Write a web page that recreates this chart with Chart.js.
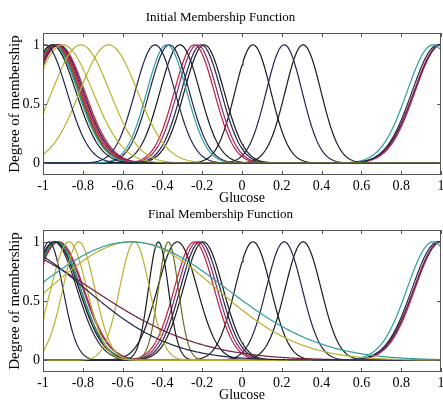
<!DOCTYPE html>
<html>
<head>
<meta charset="utf-8">
<script src="https://cdn.jsdelivr.net/npm/chart.js@4.4.0/dist/chart.umd.min.js"></script>
<style>
  html, body { margin: 0; padding: 0; background: #fff; }
  #wrap { position: relative; width: 443px; height: 404px; overflow: hidden; }
  .panel { position: absolute; left: 0; width: 443px; height: 207px; }
  #top { top: 0; }
  #bottom { top: 197px; }
</style>
</head>
<body>
<div id="wrap">
  <div class="panel" id="top"><canvas id="initial-chart"></canvas></div>
  <div class="panel" id="bottom"><canvas id="final-chart"></canvas></div>
</div>
<script>
const xTicks = [-1, -0.8, -0.6, -0.4, -0.2, 0, 0.2, 0.4, 0.6, 0.8, 1];
const yTicks = [0, 0.5, 1];

// gaussian membership functions: centre and width of each curve
const initialCenters = [
    -0.99, -0.90, -0.81, -0.67,
    -0.955, -0.95, -0.945, -0.94, -0.935, -0.93, -0.925, -0.92, -0.93,
    -0.437, -0.378, -0.365, -0.312, -0.24, -0.225, -0.205, -0.19,
    0.055, 0.212, 0.307,
    0.96, 0.985, 0.995, 1.0, 1.0
];
const initialSigmas = [
    0.11, 0.15, 0.145, 0.145,
    0.12, 0.125, 0.125, 0.125, 0.127, 0.128, 0.128, 0.13, 0.12,
    0.1, 0.1, 0.1, 0.1, 0.1, 0.1, 0.1, 0.1,
    0.09, 0.09, 0.09,
    0.13, 0.13, 0.13, 0.135, 0.13
];

const finalCenters = [
    -0.56, -0.55, -1.22, -1.31,
    -0.87, -0.82, -0.54, -0.97,
    -0.94, -0.935, -0.93, -0.945, -0.925, -0.92,
    -0.42, -0.37,
    -0.325, -0.24, -0.225, -0.21, -0.195,
    0.055, 0.212, 0.307,
    0.96, 0.985, 0.995, 1.0, 1.0
];
const finalSigmas = [
    0.48, 0.42, 0.43, 0.55,
    0.09, 0.08, 0.075, 0.07,
    0.12, 0.12, 0.12, 0.115, 0.125, 0.125,
    0.05, 0.05,
    0.1, 0.1, 0.1, 0.1, 0.1,
    0.09, 0.09, 0.09,
    0.13, 0.13, 0.13, 0.135, 0.13
];

const navy = "#24244e", black = "#1b1b1b", teal = "#2f9e9e", olive = "#b8b230",
      red = "#c0203a", maroon = "#6e1e3e", magenta = "#8a2a70", green = "#2f7a3a",
      darkOlive = "#6b6b24";

const initialColors = [
    navy, olive, olive, olive,
    black, teal, green, red, red, magenta, navy, red, olive,
    navy, teal, navy, black, red, magenta, navy, black,
    black, navy, black,
    teal, navy, magenta, black, red
];
const finalColors = [
    teal, olive, navy, maroon,
    olive, olive, olive, navy,
    black, teal, green, navy, magenta, red,
    black, darkOlive,
    black, red, magenta, navy, black,
    black, navy, black,
    teal, navy, magenta, black, red
];

const sampleX = [];
for (let i = 0; i <= 400; i++) sampleX.push(-1 + i * 0.005);

const gaussmf = (x, c, s) => Math.exp(-((x - c) * (x - c)) / (2 * s * s));

const serif = "'Liberation Serif', 'Times New Roman', serif";

const framePlugin = {
    id: "frame",
    afterDraw(chart) {
        const { ctx, chartArea: a, scales } = chart;
        ctx.save();
        ctx.strokeStyle = "#555";
        ctx.lineWidth = 1;
        ctx.strokeRect(a.left + 0.5, a.top + 0.5, a.width - 1, a.height - 1);
        ctx.beginPath();
        xTicks.forEach(v => {
            const px = Math.round(scales.x.getPixelForValue(v)) + 0.5;
            ctx.moveTo(px, a.top); ctx.lineTo(px, a.top + 4);
            ctx.moveTo(px, a.bottom); ctx.lineTo(px, a.bottom - 4);
        });
        yTicks.forEach(v => {
            const py = Math.round(scales.y.getPixelForValue(v)) + 0.5;
            ctx.moveTo(a.left, py); ctx.lineTo(a.left + 4, py);
            ctx.moveTo(a.right, py); ctx.lineTo(a.right - 4, py);
        });
        ctx.stroke();
        ctx.restore();
    }
};

function makeChart(id, title, centers, sigmas, colors, zeroColor) {
    const datasets = centers.map((c, i) => ({
        data: sampleX.map(x => ({ x: x, y: gaussmf(x, c, sigmas[i]) })),
        borderColor: colors[i],
        borderWidth: 1.2,
        pointRadius: 0,
        showLine: true,
        fill: false
    }));

    new Chart(document.getElementById(id), {
        type: "scatter",
        data: { datasets: datasets },
        options: {
            responsive: true,
            maintainAspectRatio: false,
            animation: false,
            devicePixelRatio: 1,
            layout: { padding: { left: 0, right: 2, top: 0, bottom: 0 } },
            plugins: {
                legend: { display: false },
                tooltip: { enabled: false },
                title: {
                    display: true,
                    text: title,
                    color: "#000",
                    font: { family: serif, size: 13, weight: "normal" },
                    padding: { top: 10, bottom: 7.4 }
                }
            },
            scales: {
                x: {
                    type: "linear",
                    min: -1,
                    max: 1,
                    afterBuildTicks: s => { s.ticks = xTicks.map(v => ({ value: v })); },
                    afterFit: s => { s.height = 32; s.paddingLeft = 0; s.paddingRight = 0; },
                    grid: { display: false, drawTicks: false },
                    border: { display: false },
                    ticks: {
                        color: "#000",
                        padding: 3,
                        maxRotation: 0,
                        autoSkip: false,
                        font: { family: serif, size: 14 },
                        callback: v => String(Number(v.toFixed(1)))
                    },
                    title: {
                        display: true,
                        text: "Glucose",
                        color: "#000",
                        font: { family: serif, size: 14 },
                        padding: { top: 0, bottom: 0 }
                    }
                },
                y: {
                    min: -0.1,
                    max: 1.1,
                    afterBuildTicks: s => { s.ticks = yTicks.map(v => ({ value: v })); },
                    afterFit: s => { s.width = 43; },
                    grid: {
                        drawTicks: false,
                        color: ctx => ctx.tick && ctx.tick.value === 0 ? zeroColor : "rgba(0,0,0,0)"
                    },
                    border: { display: false },
                    ticks: {
                        color: "#000",
                        padding: 3,
                        font: { family: serif, size: 14 },
                        callback: v => String(v)
                    },
                    title: {
                        display: true,
                        text: "Degree of membership",
                        color: "#000",
                        font: { family: serif, size: 15 },
                        padding: { top: 6, bottom: 0 }
                    }
                }
            }
        },
        plugins: [framePlugin]
    });
}

makeChart("initial-chart", "Initial Membership Function", initialCenters, initialSigmas, initialColors, "#222");
makeChart("final-chart", "Final Membership Function", finalCenters, finalSigmas, finalColors, "#666");
</script>
</body>
</html>
